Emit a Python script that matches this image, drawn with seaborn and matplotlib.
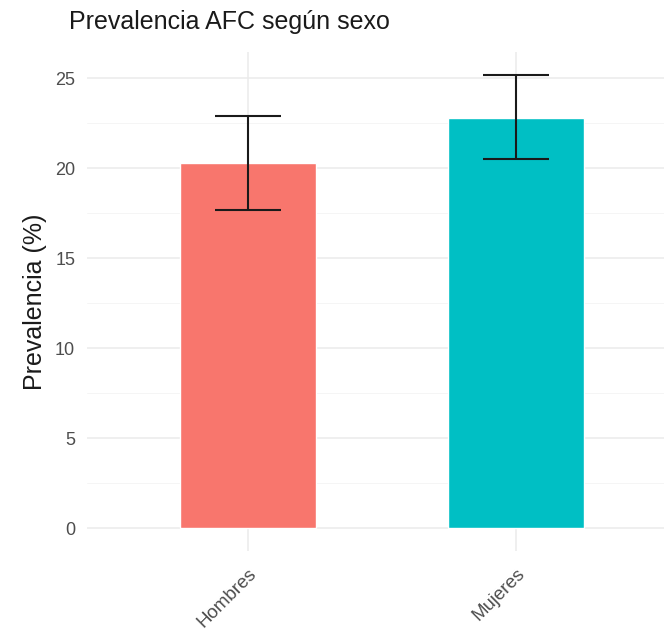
import matplotlib
matplotlib.use("Agg")
import matplotlib.pyplot as plt
import seaborn as sns
import pandas as pd
import numpy as np

sexo = ["Hombres", "Mujeres"]
prevalencia = [20.3, 22.8]
ic_inf = [17.67, 20.5]
ic_sup = [22.9, 25.2]
colores = ["#F8766D", "#00BFC4"]

df = pd.DataFrame({"sexo": sexo, "prev": prevalencia, "lo": ic_inf, "hi": ic_sup})

sns.set_theme(style="white")
plt.rcParams["font.family"] = ["Liberation Sans", "DejaVu Sans"]

W, H = 664, 638
fig = plt.figure(figsize=(W / 100, H / 100), dpi=100)
ax = fig.add_axes([87 / W, (H - 551) / H, (664 - 87) / W, (551 - 52) / H])

sns.barplot(data=df, x="sexo", y="prev", hue="sexo", palette=colores,
            width=0.51, ax=ax, legend=False, zorder=2, saturation=1)

x = np.arange(len(sexo))
ax.errorbar(x, df["prev"], yerr=[df["prev"] - df["lo"], df["hi"] - df["prev"]],
            fmt="none", ecolor="#1a1a1a", elinewidth=1.5, capsize=23.8,
            capthick=1.5, zorder=3)

ax.set_xlim(-0.6, 1.552)
ax.set_ylim(-1.26, 26.46)
ax.set_yticks([0, 5, 10, 15, 20, 25])
ax.set_yticks([2.5, 7.5, 12.5, 17.5, 22.5], minor=True)
ax.grid(True, which="major", color="#EBEBEB", linewidth=1.1, zorder=0)
ax.grid(True, which="minor", axis="y", color="#F4F4F4", linewidth=0.6, zorder=0)
ax.set_axisbelow(True)
for s in ax.spines.values():
    s.set_visible(False)
ax.tick_params(axis="both", which="both", length=0, colors="#4D4D4D")
ax.tick_params(axis="y", pad=8.5, labelsize=13)
ax.tick_params(axis="x", pad=10, labelsize=13.5)
for lab in ax.get_xticklabels():
    lab.set_rotation(45)
    lab.set_ha("right")
    lab.set_va("top")
    lab.set_rotation_mode("anchor")
ax.set_xlabel("")
ax.set_ylabel("Prevalencia (%)", fontsize=18, color="#1a1a1a", labelpad=6)

fig.text(69 / W, 1 - 22 / H, "Prevalencia AFC según sexo", fontsize=18,
         color="#1a1a1a", ha="left", va="center")

fig.savefig("out.png", dpi=100)
